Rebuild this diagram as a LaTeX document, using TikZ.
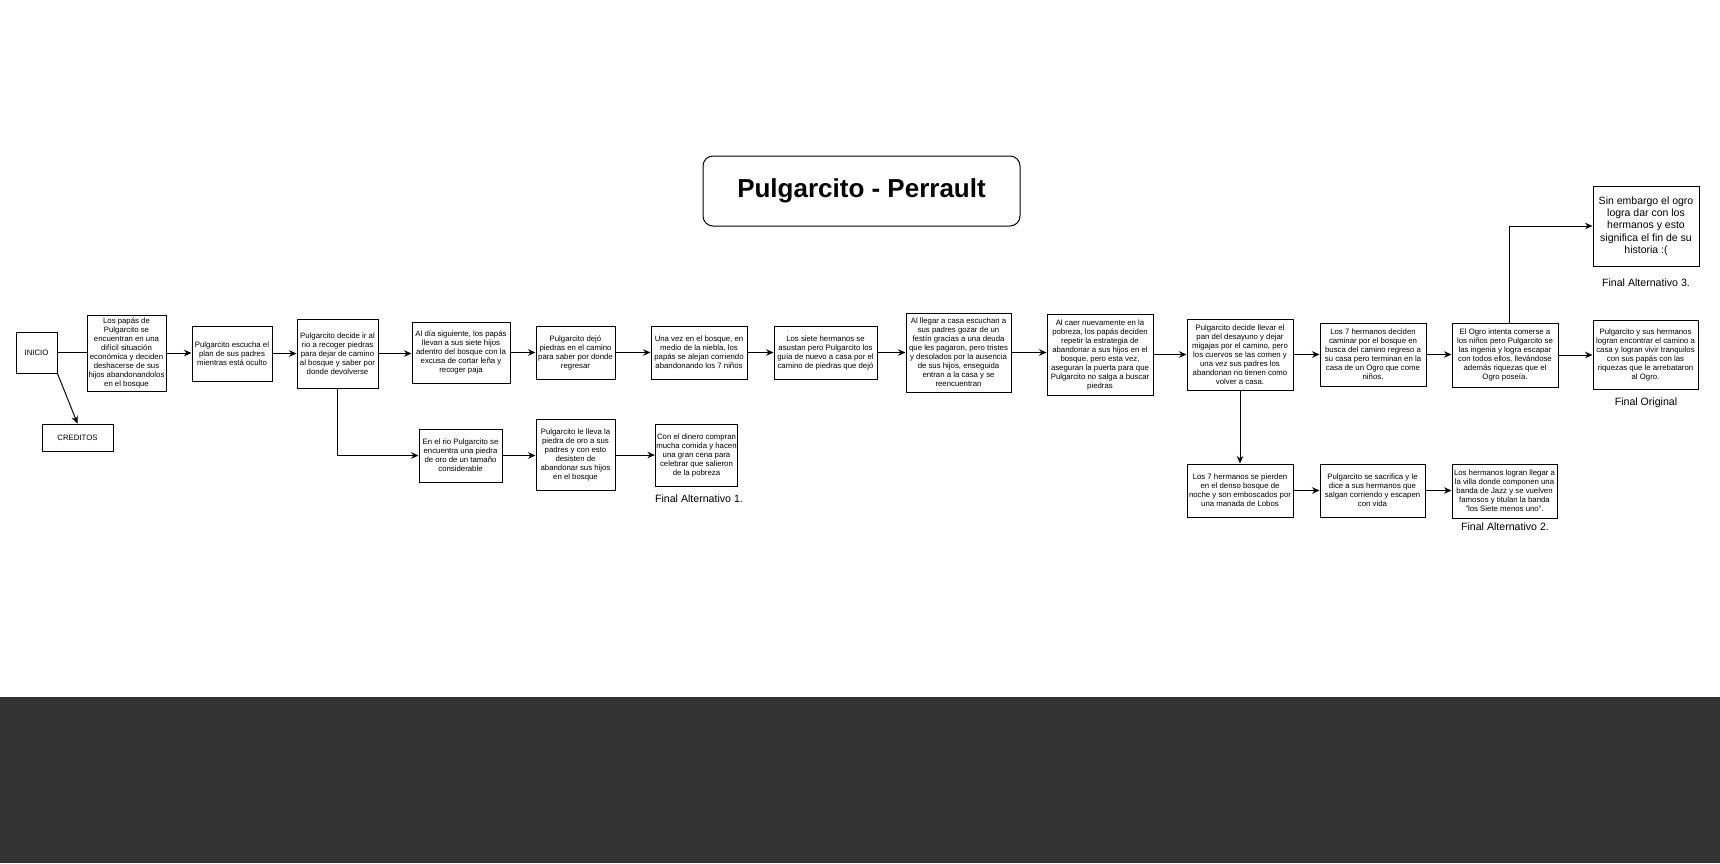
\documentclass[tikz,border=0pt]{standalone}
\usepackage{fontspec}
\setmainfont{Liberation Sans}
\usetikzlibrary{arrows.meta,calc}
\begin{document}
\begin{tikzpicture}[x=1pt,y=-1pt,
  box/.style={draw=black, line width=1pt, fill=white, align=center, inner sep=1pt,
    font=\fontsize{7.8}{9}\selectfont},
  bigbox/.style={box, font=\fontsize{10.5}{12.3}\selectfont},
  lbl/.style={font=\fontsize{10.6}{12}\selectfont, inner sep=0pt},
  conn/.style={draw=black, line width=1pt},
  arr/.style={conn, -{Stealth[length=7.5pt,width=6.5pt]}}
]
\useasboundingbox (0,0) rectangle (1720,863);
\fill[white] (0,0) rectangle (1720,697);
\fill[fill={rgb,255:red,51;green,51;blue,51}] (0,697) rectangle (1720,863);

\node[draw=black, line width=1pt, rounded corners=10pt, minimum width=317pt, minimum height=70pt,
  font=\bfseries\fontsize{26}{30}\selectfont] (title) at (861.5,191) {Pulgarcito - Perrault};

\node[box, minimum width=41pt, minimum height=41pt] (inicio) at (36.5,352.5) {INICIO};
\node[box, minimum width=71pt, minimum height=27pt] (creditos) at (77.5,437.5) {CREDITOS};
\node[box, minimum width=79pt, minimum height=76pt] (papas) at (126.5,353) {Los papás de\\Pulgarcito se\\encuentran en una\\difícil situación\\económica y deciden\\deshacerse de sus\\hijos abandonandolos\\en el bosque};
\node[box, minimum width=80pt, minimum height=55pt] (escucha) at (232,353.5) {Pulgarcito escucha el\\plan de sus padres\\mientras está oculto};
\node[box, minimum width=81pt, minimum height=69pt] (decide) at (337.5,353.5) {Pulgarcito decide ir al\\rio a recoger piedras\\para dejar de camino\\al bosque y saber por\\donde devolverse};
\node[box, minimum width=98pt, minimum height=61pt] (dia) at (461,352.5) {Al día siguiente, los papás\\llevan a sus siete hijos\\adentro del bosque con la\\excusa de cortar leña y\\recoger paja};
\node[box, minimum width=79pt, minimum height=53pt] (dejo) at (575.5,352.5) {Pulgarcito dejó\\piedras en el camino\\para saber por donde\\regresar};
\node[box, minimum width=96pt, minimum height=53pt] (unavez) at (699,352.5) {Una vez en el bosque, en\\medio de la niebla, los\\papás se alejan corriendo\\abandonando los 7 niños};
\node[box, minimum width=103pt, minimum height=53pt] (siete) at (825.5,352.5) {Los siete hermanos se\\asustan pero Pulgarcito los\\guía de nuevo a casa por el\\camino de piedras que dejó};
\node[box, minimum width=105pt, minimum height=79pt] (llegar) at (958.5,352.5) {Al llegar a casa escuchan a\\sus padres gozar de un\\festín gracias a una deuda\\que les pagaron, pero tristes\\y desolados por la ausencia\\de sus hijos, enseguida\\entran a la casa y se\\reencuentran};
\node[box, minimum width=106pt, minimum height=81pt] (caer) at (1100,354.5) {Al caer nuevamente en la\\pobreza, los papás deciden\\repetir la estrategia de\\abandonar a sus hijos en el\\bosque, pero esta vez,\\aseguran la puerta para que\\Pulgarcito no salga a buscar\\piedras};
\node[box, minimum width=106pt, minimum height=71pt] (llevar) at (1240,354.5) {Pulgarcito decide llevar el\\pan del desayuno y dejar\\migajas por el camino, pero\\los cuervos se las comen y\\una vez sus padres los\\abandonan no tienen como\\volver a casa.};
\node[box, minimum width=106pt, minimum height=63pt] (deciden) at (1373,354.5) {Los 7 hermanos deciden\\caminar por el bosque en\\busca del camino regreso a\\su casa pero terminan en la\\casa de un Ogro que come\\niños.};
\node[box, minimum width=106pt, minimum height=64pt] (ogro) at (1505,355) {El Ogro intenta comerse a\\los niños pero Pulgarcito se\\las ingenia y logra escapar\\con todos ellos, llevándose\\además riquezas que el\\Ogro poseía.};
\node[box, minimum width=105pt, minimum height=69pt] (original) at (1645.5,354.5) {Pulgarcito y sus hermanos\\logran encontrar el camino a\\casa y logran vivir tranquilos\\con sus papás con las\\riquezas que le arrebataron\\al Ogro.};
\node[bigbox, minimum width=106pt, minimum height=80pt] (sinembargo) at (1646,226) {Sin embargo el ogro\\logra dar con los\\hermanos y esto\\significa el fin de su\\historia :(};

\node[box, minimum width=83pt, minimum height=53pt] (rio) at (460.5,455.5) {En el rio Pulgarcito se\\encuentra una piedra\\de oro de un tamaño\\considerable};
\node[box, minimum width=79pt, minimum height=71pt] (lleva) at (575.5,455) {Pulgarcito le lleva la\\piedra de oro a sus\\padres y con esto\\desisten de\\abandonar sus hijos\\en el bosque};
\node[box, minimum width=81pt, minimum height=62pt] (dinero) at (696.5,455.5) {Con el dinero compran\\mucha comida y hacen\\una gran cena para\\celebrar que salieron\\de la pobreza};

\node[box, minimum width=106pt, minimum height=53pt] (pierden) at (1240,490.5) {Los 7 hermanos se pierden\\en el denso bosque de\\noche y son emboscados por\\una manada de Lobos};
\node[box, minimum width=105pt, minimum height=53pt] (sacrifica) at (1372.5,490.5) {Pulgarcito se sacrifica y le\\dice a sus hermanos que\\salgan corriendo y escapen\\con vida};
\node[box, minimum width=105pt, minimum height=54pt] (logran) at (1504.5,491) {Los hermanos logran llegar a\\la villa donde componen una\\banda de Jazz y se vuelven\\famosos y titulan la banda\\"los Siete menos uno".};

\node[lbl] (fa1) at (699,499) {Final Alternativo 1.};
\node[lbl] (fa2) at (1505,527) {Final Alternativo 2.};
\node[lbl] (fa3) at (1646,283) {Final Alternativo 3.};
\node[lbl] (fo) at (1646,403) {Final Original};

\coordinate (ogrotop) at ($(ogro.north)+(4,0)$);

\draw[conn] (inicio.east) -- (papas.west |- inicio.east);
\draw[arr] (inicio.south east) -- (creditos.north);
\draw[arr] (papas.east) -- (escucha.west |- papas.east);
\draw[arr] (escucha.east) -- (decide.west |- escucha.east);
\draw[arr] (decide.east) -- (dia.west |- decide.east);
\draw[arr] (dia.east) -- (dejo.west |- dia.east);
\draw[arr] (dejo.east) -- (unavez.west |- dejo.east);
\draw[arr] (unavez.east) -- (siete.west |- unavez.east);
\draw[arr] (siete.east) -- (llegar.west |- siete.east);
\draw[arr] (llegar.east) -- (caer.west |- llegar.east);
\draw[arr] (caer.east) -- (llevar.west |- caer.east);
\draw[arr] (llevar.east) -- (deciden.west |- llevar.east);
\draw[arr] (deciden.east) -- (ogro.west |- deciden.east);
\draw[arr] (ogro.east) -- (original.west |- ogro.east);
\draw[arr] (ogrotop) |- (sinembargo.west);
\draw[arr] (decide.south) |- (rio.west);
\draw[arr] (rio.east) -- (lleva.west |- rio.east);
\draw[arr] (lleva.east) -- (dinero.west |- lleva.east);
\draw[arr] (llevar.south) -- (pierden.north);
\draw[arr] (pierden.east) -- (sacrifica.west |- pierden.east);
\draw[arr] (sacrifica.east) -- (logran.west |- sacrifica.east);
\end{tikzpicture}
\end{document}
